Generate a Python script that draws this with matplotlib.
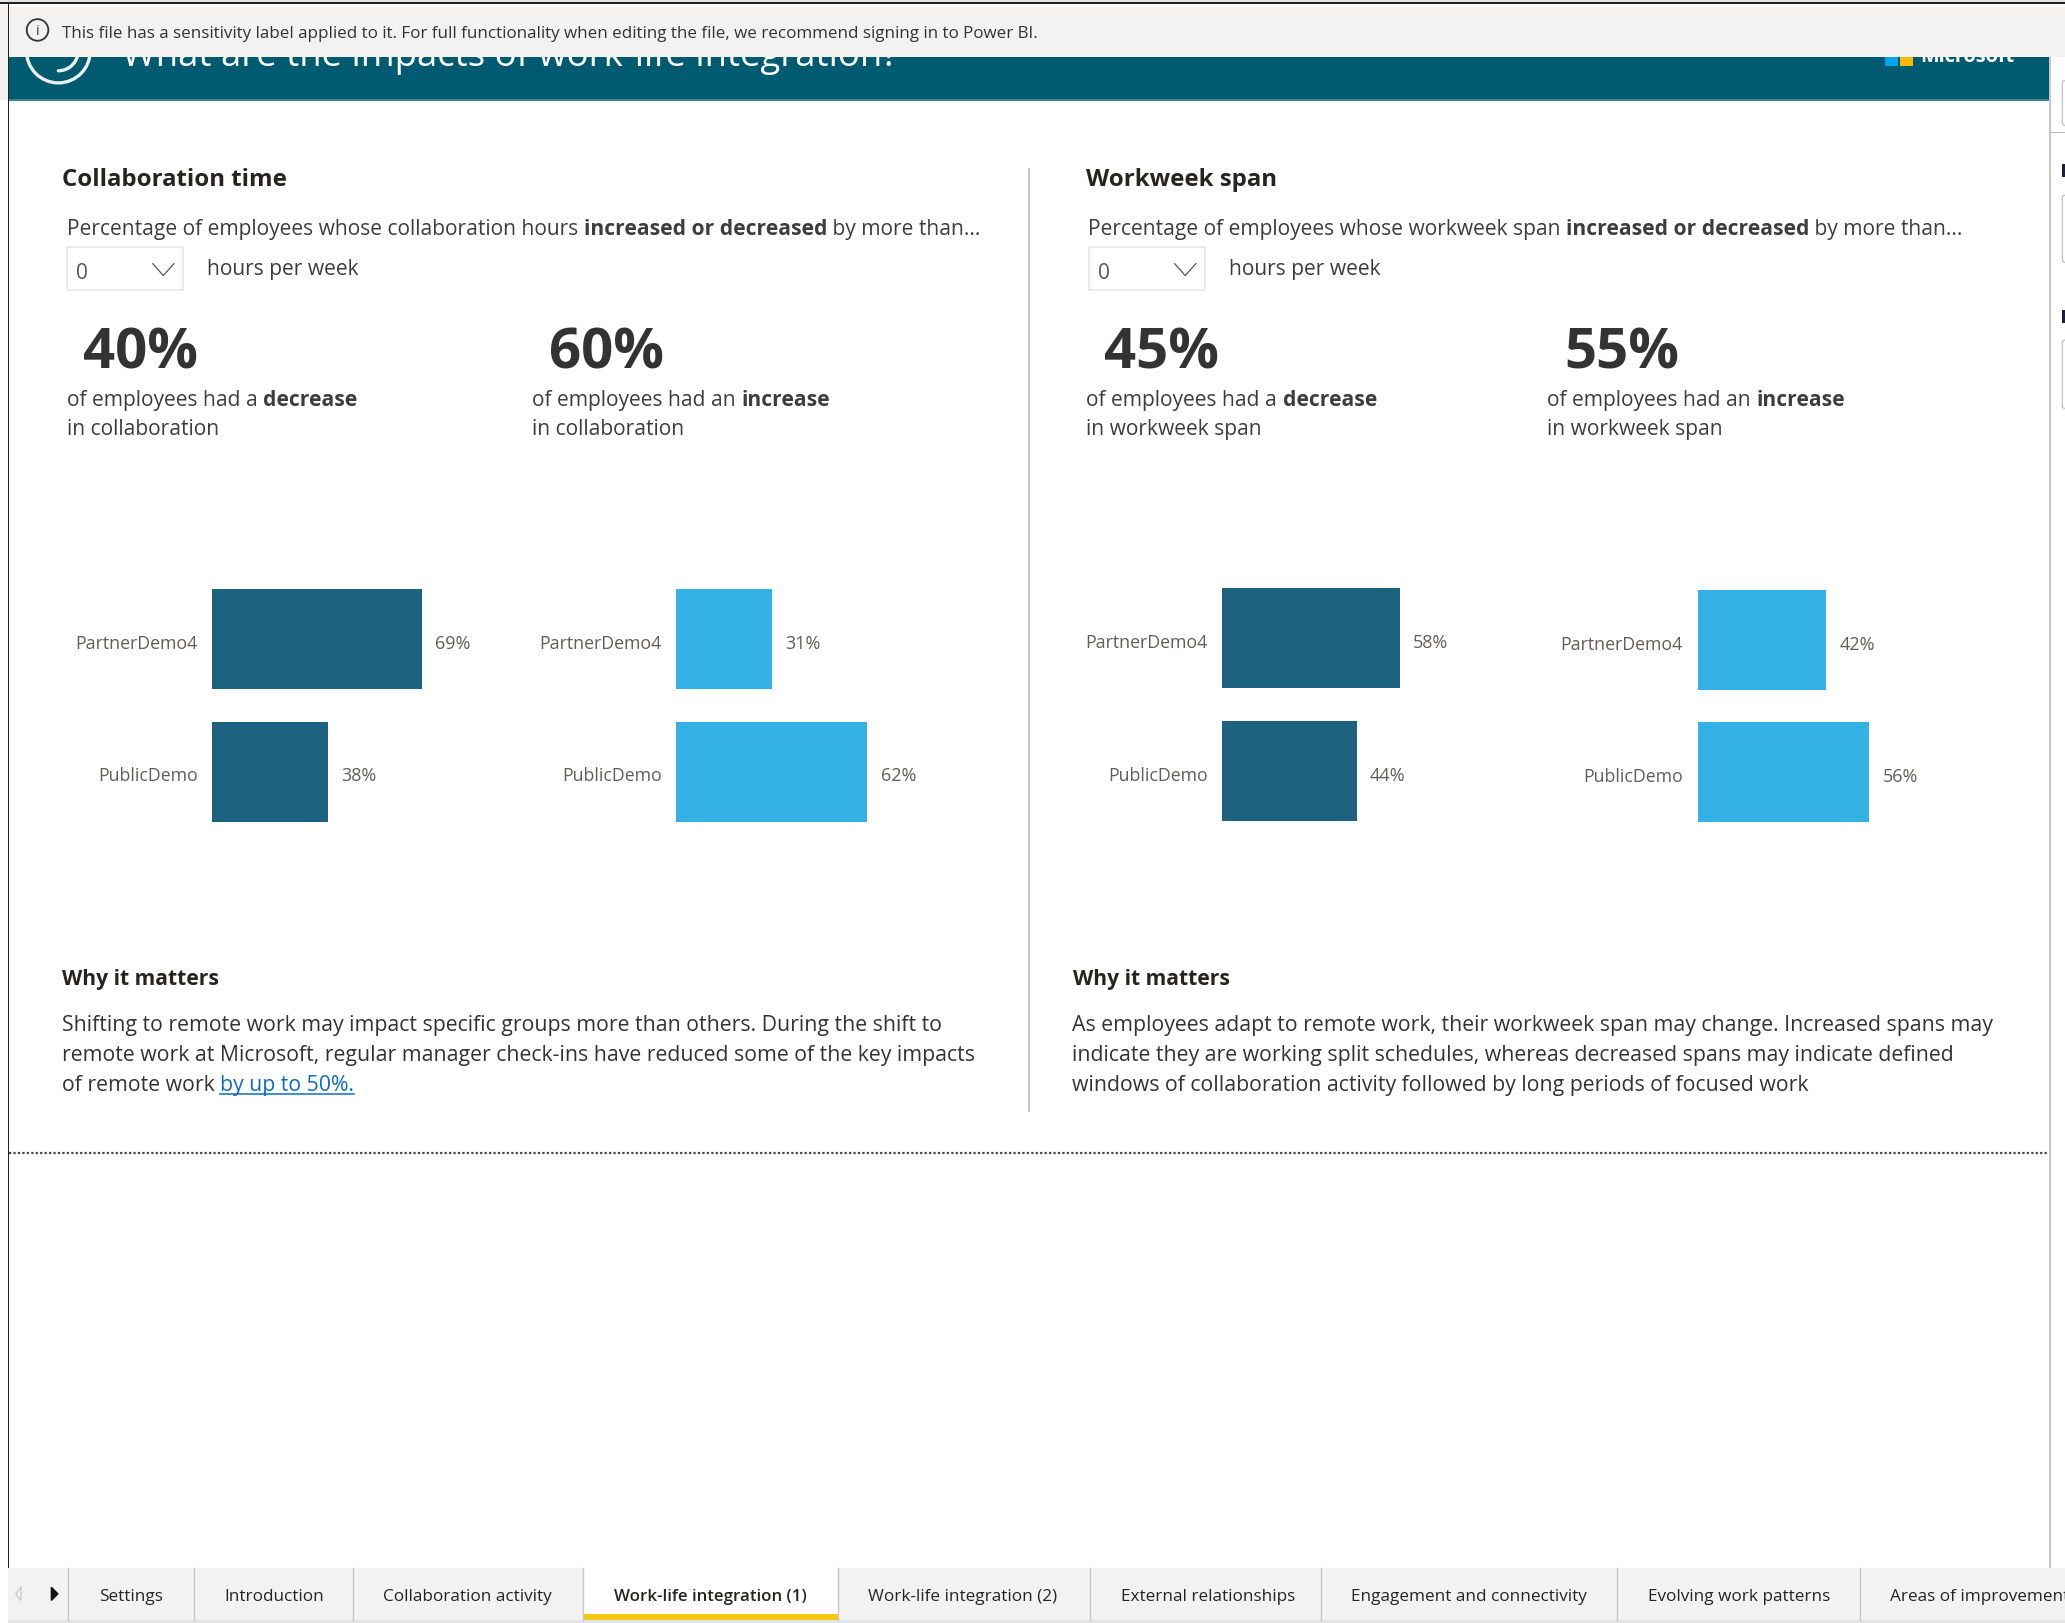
import matplotlib
matplotlib.use('Agg')
import matplotlib.pyplot as plt
from matplotlib.patches import Rectangle, FancyBboxPatch, Circle, Arc
from matplotlib.transforms import ScaledTranslation

plt.rcParams['font.family'] = ['Open Sans', 'DejaVu Sans']

W, H = 2065, 1624
S = W / 1568  # layout below was measured on a 1568 wide view

groups = ['PartnerDemo4', 'PublicDemo']
collab_decrease = [69, 38]
collab_increase = [31, 62]
span_decrease = [58, 44]
span_increase = [42, 56]
kpi_labels = ['40%', '60%', '45%', '55%']
tab_names = ['Settings', 'Introduction', 'Collaboration activity', 'Work-life integration (1)',
             'Work-life integration (2)', 'External relationships', 'Engagement and connectivity',
             'Evolving work patterns', 'Areas of improvement']
tab_edges = [52, 147, 268, 443, 636, 828, 1003, 1228, 1412, 1600]

DARK = '#1d627f'
LIGHT = '#34b1e5'
TEAL = '#005b70'
BODY = '#3d3d3d'
HEAD = '#252423'
TXT = 15.1
WHY = 15.3

fig = plt.figure(figsize=(W / 100, H / 100), dpi=100, facecolor='white')
bg = fig.add_axes([0, 0, 1, 1])
bg.set_xlim(0, 1568)
bg.set_ylim(H / S, 0)
bg.axis('off')
renderer = fig.canvas.get_renderer()


def runs(x, y, parts, size, color=BODY, z=3):
    # parts is a list of (text, weight) drawn one after the other
    for txt, weight in parts:
        bg.text(x, y, txt, fontsize=size, color=color, fontweight=weight, va='baseline', zorder=z)
        full = bg.text(0, 0, txt + '.', fontsize=size, fontweight=weight)
        dot = bg.text(0, 0, '.', fontsize=size, fontweight=weight)
        w = full.get_window_extent(renderer).width - dot.get_window_extent(renderer).width
        full.remove()
        dot.remove()
        x += w / S
    return x


def rect(x0, y0, x1, y1, color, z=1, **kw):
    bg.add_patch(Rectangle((x0, y0), x1 - x0, y1 - y0, facecolor=color, edgecolor='none', zorder=z, **kw))


# banner, cut off by the notice bar
rect(0, 3.5, 5.7, 77, '#f3f2f1', z=1)
rect(7, 44, 1556, 76.3, TEAL, z=1)
rect(7, 76.3, 1556, 77.2, '#3a8494', z=1)
visible = Rectangle((7, 44), 1549, 33, transform=bg.transData)
bg.add_patch(Arc((44.3, 39.5), 48.4, 48.4, theta1=0, theta2=180, color='#e8f2f4', lw=2.4, zorder=2))
bg.add_patch(Arc((44.3, 39.5), 30, 30, theta1=15, theta2=90, color='#e8f2f4', lw=2.4, zorder=2, capstyle='round'))
title = bg.text(93, 50, 'What are the impacts of work-life integration?', fontsize=26.25, color='white',
                va='baseline', zorder=2)
title.set_clip_path(visible)
rect(1431.3, 30, 1441, 50.6, '#00a4ef', z=2)
rect(1442.4, 30, 1452.6, 50.6, '#ffb900', z=2)
brand = bg.text(1458, 46.8, 'Microsoft', fontsize=14.3, color='white', fontweight='bold', va='baseline', zorder=2)
brand.set_clip_path(visible)

# notice bar and window frame
rect(7, 6, 1568, 44, '#f3f2f1', z=4)
rect(0, 2, 1568, 3.5, '#222222', z=5)
rect(0, 0, 1568, 2, '#e6e6e6', z=5)
rect(5.7, 2, 7, 1191, '#222222', z=5)
bg.add_patch(Circle((28.5, 23.5), 8.2, facecolor='none', edgecolor='#333333', lw=1.3, zorder=5))
bg.text(28.5, 23.8, 'i', fontsize=10, color='#333333', ha='center', va='center', zorder=5)
bg.text(47, 29, 'This file has a sensitivity label applied to it. For full functionality when editing the file, '
        'we recommend signing in to Power BI.', fontsize=12.25, color='#333333', va='baseline', zorder=5)

# filter pane edge on the right
rect(1556, 44, 1557, 1191, '#c8c8c8')
rect(1557, 101, 1568, 102, '#bbbbbb')
for y0, y1 in [(62, 96), (149, 200), (259, 311)]:
    bg.add_patch(FancyBboxPatch((1566, y0), 6, y1 - y0, boxstyle='round,pad=0,rounding_size=2',
                                facecolor='white', edgecolor='#c4c4c4', lw=1, zorder=2))
rect(1565.5, 125, 1568, 135, '#1c1c3c')
rect(1565.5, 236, 1568, 246, '#1c1c3c')

# divider lines
rect(780.5, 128, 782, 845, '#c8c6c4')
bg.plot([7, 1556], [876, 876], color='#444444', lw=1.6, ls=(0, (1, 1)), zorder=2)

# section headings
runs(47, 141.5, [('Collaboration time', 'bold')], 17.3, HEAD)
runs(51, 178.5, [('Percentage of employees whose collaboration hours ', 'normal'), ('increased or decreased', 'bold'),
                 (' by more than...', 'normal')], TXT)
runs(825, 141.5, [('Workweek span', 'bold')], 17.3, HEAD)
runs(826, 178.5, [('Percentage of employees whose workweek span ', 'normal'), ('increased or decreased', 'bold'),
                  (' by more than...', 'normal')], TXT)

# dropdowns
for bx, tx in [(51, 157), (827, 933)]:
    bg.add_patch(Rectangle((bx, 188), 88, 33, facecolor='white', edgecolor='#e8e8e8', lw=1.2, zorder=2))
    bg.text(bx + 7, 212, '0', fontsize=15, color='#555555', va='baseline', zorder=3)
    bg.plot([bx + 65, bx + 73, bx + 81], [201, 210, 201], color='#555555', lw=0.9, zorder=3)
    bg.text(tx, 209, 'hours per week', fontsize=TXT, color=BODY, va='baseline', zorder=3)

# big numbers and captions
kpi_x = [63, 417, 838, 1188]
cap_x = [51, 404, 825, 1175]
cap_word = ['collaboration', 'collaboration', 'workweek span', 'workweek span']
for i in range(4):
    bg.text(kpi_x[i], 280, kpi_labels[i], fontsize=40.5, fontweight='bold', color='#333333', va='baseline', zorder=3)
    if i % 2 == 0:
        first = [('of employees had a ', 'normal'), ('decrease', 'bold')]
    else:
        first = [('of employees had an ', 'normal'), ('increase', 'bold')]
    runs(cap_x[i], 308, first, TXT)
    runs(cap_x[i], 330, [('in ' + cap_word[i], 'normal')], TXT)

# bar panels
panels = [(collab_decrease, DARK, 161.2, 2.305, 486),
          (collab_increase, LIGHT, 513.5, 2.34, 486),
          (span_decrease, DARK, 928, 2.325, 485.5),
          (span_increase, LIGHT, 1289, 2.33, 486.7)]
for values, color, x0, per_pct, top_center in panels:
    left = x0 * S / W
    width = 100 * per_pct * S / W
    bottom = 1 - (top_center + 100.6 + 50.3) * S / H
    height = 201.2 * S / H
    ax = fig.add_axes([left, bottom, width, height], facecolor='none')
    bars = ax.barh(groups, values, height=0.755, color=color)
    ax.set_xlim(0, 100)
    ax.set_ylim(1.5, -0.5)
    ax.xaxis.set_visible(False)
    ax.tick_params(axis='y', length=0, pad=10.5, labelsize=12.75, labelcolor='#605e5c')
    shift = ScaledTranslation(0, -1.3 / 72, fig.dpi_scale_trans)
    for lab in ax.get_yticklabels():
        lab.set_transform(lab.get_transform() + shift)
    for side in ax.spines.values():
        side.set_visible(False)
    for lab in ax.bar_label(bars, labels=[f'{v}%' for v in values], padding=10, fontsize=13, color='#605e5c'):
        lab.xyann = (9.5, -2.8)

# why it matters
runs(47, 748, [('Why it matters', 'bold')], TXT, HEAD)
runs(47, 783, [('Shifting to remote work may impact specific groups more than others. During the shift to', 'normal')], WHY, '#333333')
runs(47, 806, [('remote work at Microsoft, regular manager check-ins have reduced some of the key impacts', 'normal')], WHY, '#333333')
end = runs(47, 828.5, [('of remote work ', 'normal')], WHY, '#333333')
end2 = runs(end, 828.5, [('by up to 50%.', 'normal')], WHY, '#0f6cbd')
bg.plot([end, end2], [831.5, 831.5], color='#0f6cbd', lw=1.1, zorder=3)
runs(815, 748, [('Why it matters', 'bold')], TXT, HEAD)
runs(814, 783, [('As employees adapt to remote work, their workweek span may change. Increased spans may', 'normal')], WHY, '#333333')
runs(814, 806, [('indicate they are working split schedules, whereas decreased spans may indicate defined', 'normal')], WHY, '#333333')
runs(814, 828.5, [('windows of collaboration activity followed by long periods of focused work', 'normal')], WHY, '#333333')

# tab strip
rect(6, 1191, 1568, 1231, '#f3f2f1')
rect(6, 1231, 1568, 1233, '#e4e4e4')
bg.plot([16, 16, 12, 16], [1206, 1216, 1211, 1206], color='#cccccc', lw=1, zorder=3)
bg.fill([39, 39, 44], [1206, 1216, 1211], color='#111111', zorder=3)
for i, name in enumerate(tab_names):
    a, b = tab_edges[i], tab_edges[i + 1]
    active = name == 'Work-life integration (1)'
    if active:
        rect(a, 1191, b, 1226, 'white', z=2)
        rect(a, 1226, b, 1231, '#f2c811', z=2)
    bg.plot([a, a], [1191, 1231], color='#c8c6c4', lw=1, zorder=3)
    bg.text(a + 23, 1216, name, fontsize=12.15 if active else 12.3, color='#252423', va='baseline',
            fontweight='semibold' if active else 'normal', zorder=3, clip_on=True)

fig.savefig('out.png', dpi=100)
